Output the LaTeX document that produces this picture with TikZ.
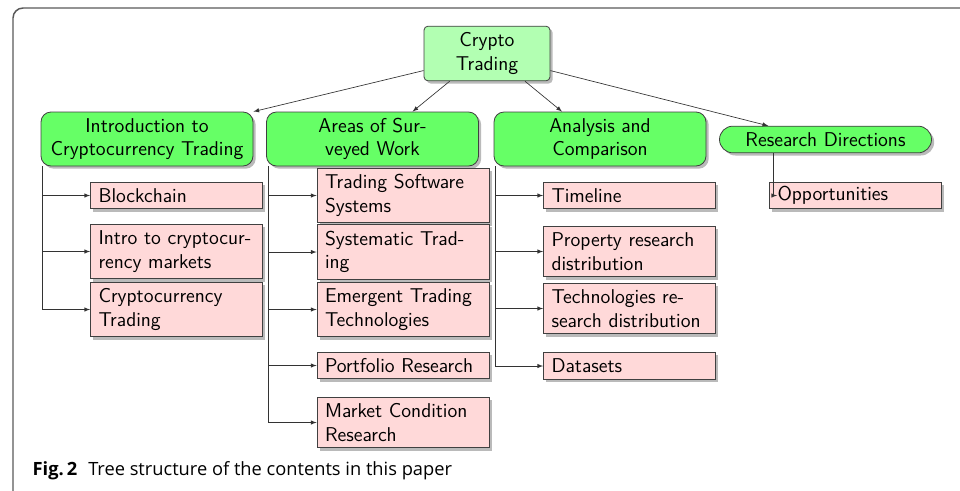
\documentclass[tikz,border=0pt]{standalone}
\usepackage{fontspec}
\newfontfamily\capfont{Open Sans}
\usetikzlibrary{shadows}

\begin{document}
\begin{tikzpicture}[x=0.75pt,y=-0.75pt,
	font=\sffamily\fontsize{15}{17.5}\selectfont,
	shade box/.style={draw=black!75,line width=0.6pt,
		drop shadow={shadow xshift=2pt,shadow yshift=-2pt,fill=black!45,opacity=0.6}},
	rootbox/.style={shade box,fill=green!30,rounded corners=3pt,minimum width=94.5pt,minimum height=41pt,align=center},
	topicbox/.style={shade box,fill=green!60,rounded corners=7.5pt,minimum width=159pt,minimum height=40.5pt,align=center},
	leafbox/.style={shade box,fill=red!15,text width=117pt,inner xsep=6pt,inner ysep=3pt,minimum height=20pt,align=left},
	link/.style={->,>=latex,draw=black!80,line width=0.5pt}]

	\useasboundingbox (0,0) rectangle (960,490);
	\draw[black!65,line width=1.1pt,rounded corners=7.5pt] (13,492) |- (962,8);

	\node[rootbox] (root) at (487,53.5) {Crypto\\Trading};

	\node[topicbox] (intro) at (147,139) {Introduction to\\Cryptocurrency Trading};
	\node[topicbox] (areas) at (372.5,139) {Areas of Sur-\\veyed Work};
	\node[topicbox] (analysis) at (600,139) {Analysis and\\Comparison};
	\node[topicbox,minimum height=20pt,rounded corners=10pt] (rd) at (825.5,139.5) {Research Directions};

	\node[leafbox] (blockchain) at (176.5,195.5) {Blockchain};
	\node[leafbox,minimum height=41pt] (markets) at (176.5,251.5) {Intro to cryptocur-\\rency markets};
	\node[leafbox,minimum height=41pt] (ctrading) at (176.5,309.5) {Cryptocurrency\\Trading};

	\node[leafbox,minimum height=41pt] (software) at (403,195.5) {Trading Software\\Systems};
	\node[leafbox,minimum height=41pt] (systematic) at (403,252) {Systematic Trad-\\ing};
	\node[leafbox,minimum height=41pt] (emergent) at (403,309.5) {Emergent Trading\\Technologies};
	\node[leafbox] (portfolio) at (403,365.5) {Portfolio Research};
	\node[leafbox,minimum height=38pt] (market) at (403,422.5) {Market Condition\\Research};

	\node[leafbox] (timeline) at (629.5,195.5) {Timeline};
	\node[leafbox,minimum height=38pt] (property) at (629.5,251.5) {Property research\\distribution};
	\node[leafbox,minimum height=38pt] (techdist) at (629.5,308.5) {Technologies re-\\search distribution};
	\node[leafbox] (datasets) at (629.5,366) {Datasets};

	\node[leafbox] (opp) at (855.5,195.5) {Opportunities};

	% root to topics
	\path[link] ([yshift=8pt]root.south west) to (intro.north east);
	\path[link] ([xshift=-28pt]root.south) to ([xshift=30pt]areas.north);
	\path[link] ([xshift=28.5pt]root.south) to ([xshift=-28.5pt]analysis.north);
	\path[link] ([yshift=8pt]root.south east) to ([xshift=-43pt]rd.north);

	% topics to leaves
	\foreach \leaf in {blockchain,markets,ctrading}
		\draw[link] ([xshift=1.5pt]intro.south west) |- (\leaf.west);
	\foreach \leaf in {software,systematic,emergent,portfolio,market}
		\draw[link] ([xshift=1.5pt]areas.south west) |- (\leaf.west);
	\foreach \leaf in {timeline,property,techdist,datasets}
		\draw[link] ([xshift=1.5pt]analysis.south west) |- (\leaf.west);
	\draw[link] ([xshift=40.5pt]rd.south west) |- ([xshift=6pt]opp.west);

	\node[anchor=base west,font=\capfont\fontsize{13.7}{16}\selectfont] (caption) at (28,475)
		{\textbf{Fig.\,2}\hspace{0.6em}Tree structure of the contents in this paper};

\end{tikzpicture}
\end{document}
